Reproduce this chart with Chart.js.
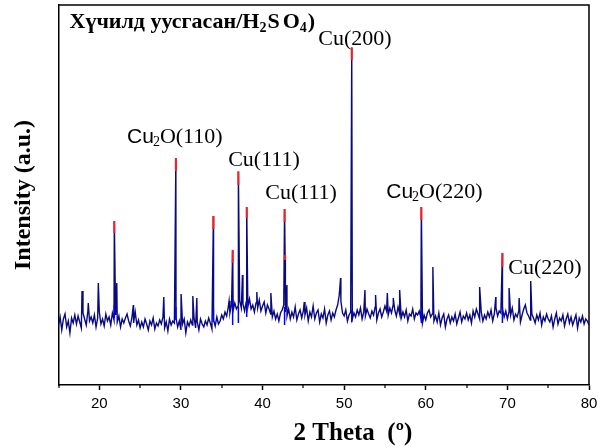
<!DOCTYPE html>
<html><head><meta charset="utf-8">
<script src="https://cdn.jsdelivr.net/npm/chart.js@4.4.0/dist/chart.umd.min.js"></script>
<style>html,body{margin:0;padding:0;background:#fff;}</style>
</head><body>
<canvas id="c" width="603" height="448"></canvas>
<script>
// ---- data ----
const thetaStart = 15;
const thetaStep = 0.2;
// background intensity every 0.2 deg from 15 to 80
const baseline = [
 60,68,55,66,71,58,64,52,67,62,70,
 61,69,63,57,72,66,60,74,64,68,
 62,70,58,67,73,61,66,59,71,64,
 68,60,72,65,70,63,69,58,66,62,
 67,71,64,59,68,62,73,60,65,57,
 63,58,66,61,55,64,60,67,56,62,
 59,65,61,68,57,63,54,66,60,64,
 62,67,58,64,55,61,66,52,63,59,
 65,60,68,57,63,55,66,61,58,64,
 60,67,62,56,65,59,68,61,64,70,
 66,73,69,78,72,80,75,82,76,79,
 84,77,81,74,83,78,86,76,80,73,
 82,77,85,74,79,83,72,80,76,71,
 68,74,66,71,64,72,75,80,73,69,
 76,66,73,68,78,65,71,75,67,74,
 70,77,64,73,68,79,66,72,75,63,
 71,67,76,62,70,74,65,72,68,75,
 80,90,84,72,69,75,64,70,73,66,
 72,68,75,70,77,66,73,69,76,71,
 67,74,70,78,65,72,76,68,73,79,
 74,70,77,72,80,75,69,78,71,67,
 73,68,75,64,71,69,76,66,72,70,
 74,67,62,70,65,72,75,68,71,64,
 69,63,72,60,67,71,58,66,70,62,
 68,64,71,61,67,73,63,69,66,72,
 65,70,62,74,68,76,71,66,73,64,
 70,66,73,68,75,64,71,77,69,74,
 72,76,68,74,66,73,70,77,65,71,
 68,74,63,70,76,80,72,69,65,71,
 67,62,70,65,72,60,68,64,71,66,
 63,69,58,66,72,61,67,64,70,59,
 66,71,62,68,60,65,70,57,67,63,
 69,61,66,64,60
];
// peak apexes
const peakTheta = [17.88,18.65,19.88,21.84,22.14,24.17,27.9,29.38,30.02,31.46,31.95,33.98,35.9,36.34,37.04,37.54,38.06,39.3,41.02,42.70,42.76,42.99,45.11,49.56,50.93,52.55,53.85,55.29,56.02,56.8,59.46,60.87,66.6,68.57,69.39,70.21,71.44,72.86];
const peakIntensity = [94,82,102,164,102,80,88,227,91,89,87,169,84,135,213.5,110,178,93,92,176,130,100,83,107,337.5,95,90,92,87,95,178,118,98,88,132,97,87,104];
// peaks marked with a red tip
const markedTheta = [21.84,29.38,33.98,36.34,37.04,38.06,42.70,42.76,50.93,59.46,69.39];
const markedTop = [164,227,169,135,213.5,178,176,130,337.5,178,132];
const markedTipBottom = [152,214,156,122,200,167,163,125,325,165,118];
// bright blue marks at the peak bases
const baseMarkTheta = [21.84,29.38,33.98,36.34,37.04,38.06,42.70,50.93,59.46,69.39];
const baseMarkLow = [67,65,63,60,62,68,60,63,62,62];
const baseMarkHigh = [80,78,76,85,78,85,78,75,75,78];
// axis ticks
const xMajorTicks = [20,30,40,50,60,70,80];
const xMinorTicks = [15,25,35,45,55,65,75];
// peak labels
const labelText = ['Cu₂O(110)','Cu(111)','Cu(111)','Cu(200)','Cu₂O(220)','Cu(220)'];
const labelTheta = [23.4,35.79,40.33,46.83,55.16,70.12];
const labelLevel = [248,225,192,346,193,117];
const titleText = 'Хүчилд уусгасан/H₂SO₄)';
const xTitle = '2 Theta  (º)';
const yTitle = 'Intensity (a.u.)';

// ---- build datasets ----
const pts = baseline.map((v,i)=>({x: Math.round((thetaStart + thetaStep*i)*100)/100, y: v}));
peakTheta.forEach((t,i)=>pts.push({x:t, y:peakIntensity[i]}));
pts.sort((a,b)=>a.x-b.x);
const tips = [];
markedTheta.forEach((t,i)=>{ tips.push({x:t,y:markedTop[i]},{x:t,y:markedTipBottom[i]},{x:t,y:null}); });
const bases = [];
baseMarkTheta.forEach((t,i)=>{ bases.push({x:t,y:baseMarkLow[i]},{x:t,y:baseMarkHigh[i]},{x:t,y:null}); });

const SERIF = '"Liberation Serif","Times New Roman",serif';
const SANS = '"Liberation Sans",Arial,sans-serif';

function drawRuns(ctx, runs, x, y){
  let cx = x;
  for (const r of runs){
    ctx.font = r.font;
    ctx.fillText(r.t, cx + (r.dx||0), y + (r.dy||0));
    cx += ctx.measureText(r.t).width + (r.dx||0) + (r.after||0);
  }
}
function labelRuns(s){
  if (s.indexOf('₂') >= 0){
    const parts = s.split('₂');
    return [
      {t:'Cu', font:'21px '+SANS},
      {t:'2', font:'14px '+SERIF, dy:5, dx:-1},
      {t:parts[1], font:'22px '+SERIF}
    ];
  }
  return [{t:s, font:'22px '+SERIF}];
}
function titleRuns(s){
  const runs = [];
  let buf = '';
  for (const ch of s){
    if (ch === '₂' || ch === '₄'){
      if (buf) runs.push({t:buf, font:'bold 22px '+SERIF});
      runs.push({t: ch === '₂' ? '2' : '4', font:'bold 14px '+SERIF, dy:4, after:1});
      buf = '';
    } else if (ch === 'S') {
      if (buf) runs.push({t:buf, font:'bold 22px '+SERIF});
      runs.push({t:'S', font:'bold 22px '+SERIF, after:3});
      buf = '';
    } else buf += ch;
  }
  if (buf) runs.push({t:buf, font:'bold 22px '+SERIF});
  return runs;
}

const decor = {
  id:'decor',
  afterDraw(chart){
    const {ctx, chartArea:a, scales:{x,y}} = chart;
    ctx.save();
    ctx.strokeStyle = '#000'; ctx.lineWidth = 1.5;
    ctx.beginPath();
    ctx.moveTo(a.left, a.top); ctx.lineTo(a.right, a.top); ctx.lineTo(a.right, a.bottom);
    ctx.stroke();
    ctx.lineWidth = 1.2;
    for (const v of xMinorTicks){
      const px = Math.round(x.getPixelForValue(v));
      ctx.beginPath(); ctx.moveTo(px, a.bottom); ctx.lineTo(px, a.bottom+3); ctx.stroke();
    }
    ctx.fillStyle = '#000';
    ctx.textAlign = 'left'; ctx.textBaseline = 'middle';
    labelText.forEach((s,i)=>{
      drawRuns(ctx, labelRuns(s), x.getPixelForValue(labelTheta[i]), y.getPixelForValue(labelLevel[i]));
    });
    ctx.textBaseline = 'alphabetic';
    drawRuns(ctx, titleRuns(titleText), a.left + 11, a.top + 23);
    // x axis title, set right of axis centre as in the original
    ctx.font = 'bold 25px ' + SERIF;
    ctx.fillText(xTitle, x.getPixelForValue(43.8), 440);
    ctx.restore();
  }
};

new Chart(document.getElementById('c'), {
  type:'line',
  data:{ datasets:[
    {data:tips, borderColor:'#ff1a1a', borderWidth:2, pointRadius:0, spanGaps:false, order:0},
    {data:bases, borderColor:'#0000ff', borderWidth:1.5, pointRadius:0, spanGaps:false, order:1},
    {data:pts, borderColor:'#0a0a80', borderWidth:1.4, pointRadius:0, tension:0, order:2}
  ]},
  options:{
    responsive:false, animation:false, devicePixelRatio:1,
    layout:{padding:{top:5, right:14, left:0, bottom:0}},
    plugins:{legend:{display:false}, tooltip:{enabled:false}},
    scales:{
      x:{
        type:'linear', min:15, max:80,
        afterBuildTicks:(s)=>{ s.ticks = xMajorTicks.concat(xMinorTicks).sort((a,b)=>a-b).map(v=>({value:v})); },
        afterFit:(s)=>{ s.height = 63; },
        ticks:{ callback:(v)=> xMajorTicks.includes(v) ? String(v) : '', font:{family:SANS, size:15}, color:'#000', padding:5, maxRotation:0, autoSkip:false },
        grid:{ display:true, drawOnChartArea:false, drawTicks:true, tickLength:5, tickWidth:1.5,
               tickColor:(c)=> (c.tick && xMajorTicks.includes(c.tick.value)) ? '#000' : 'rgba(0,0,0,0)' },
        border:{display:true, color:'#000', width:1.5},
        title:{display:false}
      },
      y:{
        type:'linear', min:0, max:380,
        afterFit:(s)=>{ s.width = 58.5; },
        ticks:{display:false},
        grid:{display:false, drawTicks:false},
        border:{display:true, color:'#000', width:1.5},
        title:{display:true, text:yTitle, font:{family:SERIF, size:24, weight:'bold'}, color:'#000', padding:{top:9,bottom:0}}
      }
    }
  },
  plugins:[decor]
});
</script>
</body></html>
